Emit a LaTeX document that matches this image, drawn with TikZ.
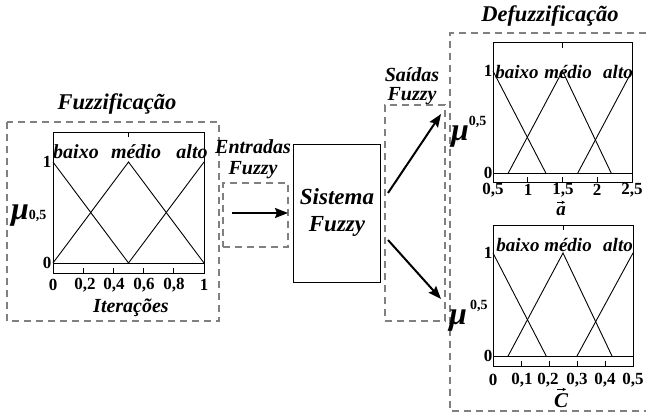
\documentclass[tikz,border=0pt]{standalone}
\usepackage{fontspec}
\setmainfont{Liberation Serif}
\usetikzlibrary{arrows.meta}
\begin{document}
\begin{tikzpicture}[x=1pt,y=-1pt,
  frame/.style={draw=black!50, dash pattern=on 7pt off 5pt, line width=1.1pt},
  plotbox/.style={draw, line width=0.9pt},
  mf/.style={line width=0.9pt},
  tick/.style={line width=0.8pt},
  lbl/.style={font=\fontsize{20}{22}\selectfont\bfseries\itshape, inner sep=0pt},
  lbls/.style={font=\fontsize{19}{21}\selectfont\bfseries\itshape, inner sep=0pt},
  ttl/.style={font=\fontsize{22.5}{26}\selectfont\bfseries\itshape, inner sep=0pt},
  num/.style={font=\fontsize{17}{19}\selectfont\bfseries, inner sep=0pt},
  flow/.style={-{Stealth[length=13pt,width=10pt,inset=2pt]}, line width=2pt},
  block/.style={draw, line width=0.9pt, inner sep=0pt},
  vecarrow/.style={-{Stealth[length=3.5pt,width=3.5pt]}, line width=0.7pt},
]
\useasboundingbox (0,0) rectangle (646,414);

% ---------------- Fuzzification stage ----------------
\draw[frame] (7,122) rectangle (219,321);
\node[ttl] (tFuzz) at (117,104) {Fuzzificação};

\begin{scope}[xshift=53pt, yshift=-263pt, x=151pt, y=101pt]
  \draw[plotbox] (0,-0.099) rectangle (1,1.297);
  \draw[mf] (0,0) -- (1,0);
  \draw[mf] (0,1) -- (0.5,0);
  \draw[mf] (0,0) -- (0.5,1) -- (1,0);
  \draw[mf] (0.5,0) -- (1,1);
  \foreach \t in {0.2,0.4,0.6,0.8} \draw[tick] (\t,-0.099) -- ++(0,5pt);
  \draw[tick] (0.5,1.297) -- ++(0,-5pt);
\end{scope}
\node[lbl] (lb1) at (76,152) {baixo};
\node[lbl] (lm1) at (136,152) {médio};
\node[lbl] (la1) at (192,152) {alto};
\node[num] (y11) at (47,162) {1};
\node[num] (y01) at (47,263) {0};
\foreach \v/\px [count=\i] in {0/53,{0,2}/85,{0,4}/114,{0,6}/144,{0,8}/174,1/204}
  \node[num] (xl1-\i) at (\px,285) {\v};
\node[lbl] (iter) at (131,308) {Iterações};
\node[anchor=base west, inner sep=0pt] (muL) at (11,220)
  {\fontsize{32}{32}\selectfont\bfseries\itshape μ\fontsize{14}{14}\selectfont\upshape 0,5};

% ---------------- Fuzzy inputs ----------------
\node[lbl] (ent) at (253,147) {Entradas};
\node[lbl] (entF) at (253,170) {Fuzzy};
\node[frame, minimum width=65pt, minimum height=64pt, inner sep=0pt] (inBox) at (255.5,215) {};
\coordinate (inA) at (232,213);
\coordinate (inB) at (288,213);
\draw[flow] (inA) -- (inB);

% ---------------- Fuzzy system ----------------
\node[block, minimum width=87pt, minimum height=138pt] (sys) at (336.5,213) {};
\node[lbl, font=\fontsize{23}{26}\selectfont\bfseries\itshape, align=center] (sysT) at (337,213)
  {Sistema\\[1pt]Fuzzy};

% ---------------- Fuzzy outputs ----------------
\node[lbl] (sai) at (412,75) {Saídas};
\node[lbl] (saiF) at (412,96) {Fuzzy};
\node[frame, minimum width=60pt, minimum height=216pt, inner sep=0pt] (outBox) at (415,213) {};
\coordinate (upA) at (388,193);
\coordinate (upB) at (441,114);
\coordinate (dnA) at (388,240);
\coordinate (dnB) at (441,299);
\draw[flow] (upA) -- (upB);
\draw[flow] (dnA) -- (dnB);

% ---------------- Defuzzification stage ----------------
\draw[frame] (646,33) -- (450,33) -- (450,411) -- (646,411);
\node[ttl] (tDef) at (550,16) {Defuzzificação};

% output a
\begin{scope}[xshift=458.25pt, yshift=-173pt, x=69.5pt, y=102pt]
  \draw[plotbox] (0.5,-0.088) rectangle (2.5,1.275);
  \draw[mf] (0.5,0) -- (2.5,0);
  \draw[mf] (0.5,1) -- (1.26,0);
  \draw[mf] (0.72,0) -- (1.5,1) -- (2.2,0);
  \draw[mf] (1.72,0) -- (2.5,1);
  \foreach \t in {1,1.5,2} \draw[tick] (\t,-0.088) -- ++(0,5pt);
  \draw[tick] (1.5,1.275) -- ++(0,-5pt);
\end{scope}
\node[lbls] (lb2) at (517,72) {baixo};
\node[lbls] (lm2) at (568,72) {médio};
\node[lbls] (la2) at (618,72) {alto};
\node[num] (y12) at (488,71) {1};
\node[num] (y02) at (488,173) {0};
\foreach \v/\px [count=\i] in {{0,5}/493,1/528,{1,5}/563,2/597,{2,5}/632}
  \node[num] (xl2-\i) at (\px,190) {\v};
\node[lbl, font=\fontsize{19}{20}\selectfont\bfseries\itshape, anchor=base] (vecA) at (561,216) {a};
\draw[vecarrow] ([xshift=-4pt,yshift=4.5pt]vecA.north) -- ([xshift=4pt,yshift=4.5pt]vecA.north);
\node[anchor=base west, inner sep=0pt] (muA) at (451,141)
  {\fontsize{32}{32}\selectfont\bfseries\itshape μ\fontsize{14}{14}\selectfont\upshape\raisebox{15pt}{0,5}};

% output C
\begin{scope}[xshift=493pt, yshift=-356pt, x=280pt, y=103pt]
  \draw[plotbox] (0,-0.097) rectangle (0.5,1.272);
  \draw[mf] (0,0) -- (0.5,0);
  \draw[mf] (0,1) -- (0.19,0);
  \draw[mf] (0.054,0) -- (0.25,1) -- (0.425,0);
  \draw[mf] (0.30,0) -- (0.5,1);
  \foreach \t in {0.1,0.2,0.3,0.4} \draw[tick] (\t,-0.097) -- ++(0,5pt);
  \draw[tick] (0.25,1.272) -- ++(0,-5pt);
\end{scope}
\node[lbls] (lb3) at (518,245) {baixo};
\node[lbls] (lm3) at (568,245) {médio};
\node[lbls] (la3) at (618,245) {alto};
\node[num] (y13) at (488,253) {1};
\node[num] (y03) at (488,356) {0};
\foreach \v/\px [count=\i] in {0/493,{0,1}/522,{0,2}/548,{0,3}/577,{0,4}/605,{0,5}/633}
  \node[num] (xl3-\i) at (\px,380) {\v};
\node[lbl, font=\fontsize{21}{22}\selectfont\bfseries\itshape, anchor=base] (vecC) at (561,407) {C};
\draw[vecarrow] ([xshift=-4pt,yshift=3.5pt]vecC.north) -- ([xshift=5pt,yshift=3.5pt]vecC.north);
\node[anchor=base west, inner sep=0pt] (muC) at (449,325)
  {\fontsize{32}{32}\selectfont\bfseries\itshape μ\hspace{3pt}\fontsize{14}{14}\selectfont\upshape\raisebox{15pt}{0,5}};
\end{tikzpicture}
\end{document}
